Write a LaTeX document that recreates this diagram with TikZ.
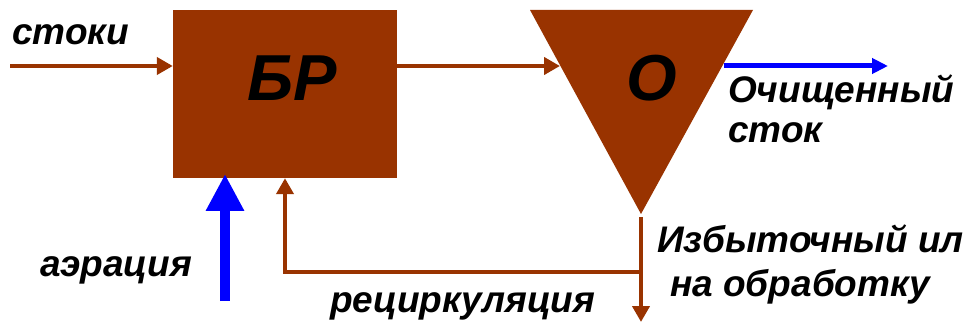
\documentclass[tikz,border=0pt]{standalone}
\usepackage{fontspec}
\setmainfont{Liberation Sans}
\usetikzlibrary{arrows.meta}
\definecolor{brn}{HTML}{993300}
\begin{document}
\begin{tikzpicture}[x=1pt,y=-1pt,
  lbl/.style={font=\fontsize{37}{42}\selectfont\bfseries\itshape, inner sep=0pt, anchor=base west},
  flow/.style={draw=brn, line width=4.5pt, -{Triangle[length=16pt,width=17pt]}},
  outflow/.style={draw=blue, line width=5pt, -{Triangle[length=16pt,width=15pt]}},
  air/.style={draw=blue, line width=10pt, -{Triangle[length=37pt,width=36pt]}},
  big/.style={font=\fontsize{65}{65}\selectfont\bfseries\itshape, inner sep=0pt}]
\useasboundingbox (0,0) rectangle (969,323);
\node[fill=brn, minimum width=224pt, minimum height=168pt, inner sep=0pt] (br) at (285,94) {};
\node[big] (brlbl) at (292,78) {БР};
\coordinate (tl) at (530,10);
\coordinate (tr) at (753,10);
\coordinate (apex) at (641,214);
\fill[brn] (tl) -- (tr) -- (apex) -- cycle;
\node[big] (olbl) at (652,78) {О};
% connectors
\coordinate (in) at (10,66);
\draw[flow] (in) -- (br.west |- in);
\coordinate (tin) at (560,66);
\draw[flow] (br.east |- tin) -- (tin);
\coordinate (o1) at (724,66);
\coordinate (o2) at (888,66);
\draw[outflow] (o1) -- (o2);
\coordinate (a0) at (225,301);
\coordinate (a1) at (225,174);
\draw[air] (a0) -- (a1);
\coordinate (j) at (641,272);
\coordinate (down) at (641,322);
\coordinate (apexb) at (641,217);
\draw[flow] (apexb) -- (down);
\draw[flow] (j) -| (br.south);
% labels
\node[lbl] (t1) at (12,45) {стоки};
\node[lbl] (t2) at (728,103) {Очищенный};
\node[lbl] (t3) at (728,143) {сток};
\node[lbl] (t4) at (40,276) {аэрация};
\node[lbl] (t5) at (330,312) {рециркуляция};
\node[lbl] (t6) at (657,252) {Избыточный ил};
\node[lbl] (t7) at (670,296) {на обработку};
\end{tikzpicture}
\end{document}
